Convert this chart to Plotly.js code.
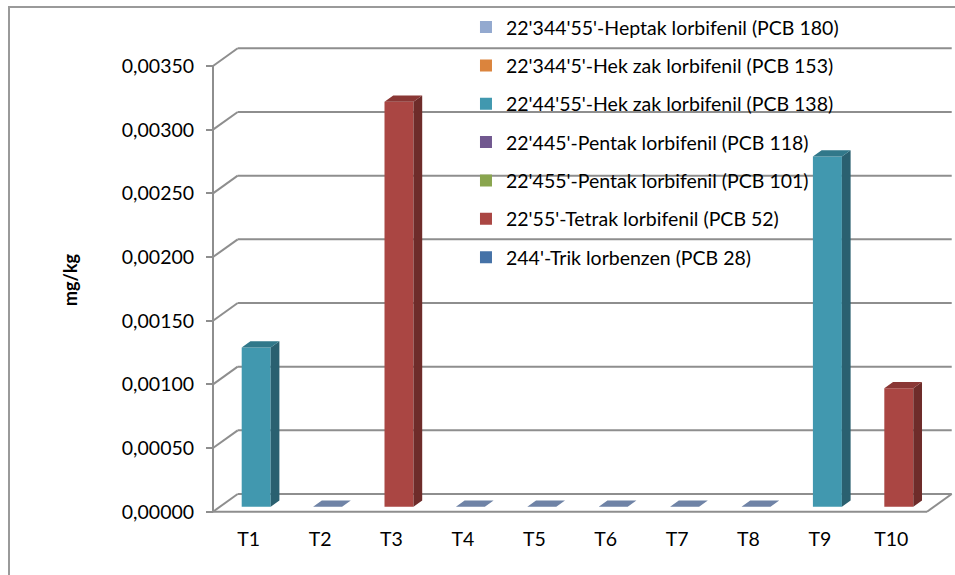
<!DOCTYPE html>
<html>
<head>
<meta charset="utf-8">
<script src="https://cdn.plot.ly/plotly-3.0.1.min.js"></script>
<style>html,body{margin:0;padding:0;background:#fff;}#chart{width:955px;height:575px;}</style>
</head>
<body>
<div id="chart"></div>
<script>
// ---- data ----
const categories = ['T1','T2','T3','T4','T5','T6','T7','T8','T9','T10'];
const seriesNames = [
  "244'-Trik lorbenzen (PCB 28)",
  "22'55'-Tetrak lorbifenil (PCB 52)",
  "22'455'-Pentak lorbifenil (PCB 101)",
  "22'445'-Pentak lorbifenil (PCB 118)",
  "22'44'55'-Hek zak lorbifenil (PCB 138)",
  "22'344'5'-Hek zak lorbifenil (PCB 153)",
  "22'344'55'-Heptak lorbifenil (PCB 180)"
];
const pcb28  = [0, 0, 0, 0, 0, 0, 0, 0, 0, 0];
const pcb52  = [0, 0, 0.00318, 0, 0, 0, 0, 0, 0, 0.00093];
const pcb101 = [0, 0, 0, 0, 0, 0, 0, 0, 0, 0];
const pcb118 = [0, 0, 0, 0, 0, 0, 0, 0, 0, 0];
const pcb138 = [0.00125, 0, 0, 0, 0, 0, 0, 0, 0.00275, 0];
const pcb153 = [0, 0, 0, 0, 0, 0, 0, 0, 0, 0];
const pcb180 = [0, 0, 0, 0, 0, 0, 0, 0, 0, 0];
const yTickVals = [0, 0.0005, 0.001, 0.0015, 0.002, 0.0025, 0.003, 0.0035];
const yTickText = ['0,00000','0,00050','0,00100','0,00150','0,00200','0,00250','0,00300','0,00350'];

// ---- styles ----
const seriesValues = [pcb28, pcb52, pcb101, pcb118, pcb138, pcb153, pcb180];
const frontColors = ['#4572A7','#AA4643','#89A54E','#71588F','#4198AF','#DB843D','#93A9CF'];
const topColors   = ['#345A88','#8A3735','#6E8740','#5A4672','#31788A','#B06A30','#6F83A6'];
const sideColors  = ['#2B4A70','#6E2C2A','#58702F','#48385C','#2A6070','#8E5526','#5C6D8C'];
const FONT = 'Lato, "Open Sans", sans-serif';
const FS = 19.5;
const GRID = '#8E8E8E';
const B0 = 0.0000393, OFF = -0.098, W = 0.406, DDX = 0.122, DDY = 0.0000495;
const DX = 0.346, DY = 0.000139;
const XMIN = -0.542, XMAX = 9.892, YMIN = -0.0000259, YMAX = 0.003665;

const idx = categories.map((c, i) => i);
const bases = seriesValues.map((vals, s) =>
  vals.map((v, i) => B0 + seriesValues.slice(0, s).reduce((a, arr) => a + arr[i], 0)));

const traces = [];
// front faces (legend order: last series on top)
for (let s = seriesValues.length - 1; s >= 0; s--) {
  traces.push({
    type: 'bar', name: seriesNames[s], x: idx, y: seriesValues[s], base: bases[s],
    offset: OFF, width: W, marker: {color: frontColors[s], line: {width: 0}},
    legendgroup: 'g' + s, hoverinfo: 'skip'
  });
}
// side faces and top faces
seriesValues.forEach((vals, s) => {
  const sx = [], sy = [];
  vals.forEach((v, i) => {
    if (v > 0) {
      const x0 = idx[i] + OFF + W, b = bases[s][i];
      sx.push(x0, x0 + DDX, x0 + DDX, x0, null);
      sy.push(b, b + DDY, b + v + DDY, b + v, null);
    }
  });
  if (sx.length) traces.push({type: 'scatter', mode: 'none', x: sx, y: sy, fill: 'toself',
    fillcolor: sideColors[s], showlegend: false, hoverinfo: 'skip'});
});
const topX = seriesValues.map(() => []), topY = seriesValues.map(() => []);
idx.forEach(i => {
  let t = seriesValues.length - 1;
  for (let s = seriesValues.length - 1; s >= 0; s--) { if (seriesValues[s][i] > 0) { t = s; break; } }
  const total = B0 + seriesValues.reduce((a, arr) => a + arr[i], 0);
  const x0 = i + OFF;
  topX[t].push(x0, x0 + W, x0 + W + DDX, x0 + DDX, null);
  topY[t].push(total, total, total + DDY, total + DDY, null);
});
topX.forEach((xs, s) => {
  if (xs.length) traces.push({type: 'scatter', mode: 'none', x: xs, y: topY[s], fill: 'toself',
    fillcolor: topColors[s], showlegend: false, hoverinfo: 'skip'});
});

// walls / grid
const shapes = [];
const ln = (x0, y0, x1, y1) => ({type: 'line', xref: 'x', yref: 'y', x0, y0, x1, y1,
  line: {color: GRID, width: 2}, layer: 'below'});
yTickVals.forEach(v => {
  shapes.push(ln(-0.5, v, -0.5 + DX, v + DY));
  shapes.push(ln(-0.5 + DX, v + DY, categories.length - 0.5 + DX, v + DY));
});
shapes.push(ln(-0.5, 0, -0.5, yTickVals[yTickVals.length - 1]));
shapes.push(ln(-0.5, 0, categories.length - 0.5, 0));
shapes.push(ln(categories.length - 0.5, 0, categories.length - 0.5 + DX, DY));
shapes.push({type: 'rect', xref: 'paper', yref: 'paper', x0: -0.2698, x1: 1.02, y0: -0.138, y1: 1.0809,
  line: {color: '#9A9A9A', width: 2}, fillcolor: 'rgba(0,0,0,0)', layer: 'below'});

const boundaries = [-0.5].concat(idx.map(i => i + 0.5));
const layout = {
  width: 955, height: 575, autosize: false,
  margin: {l: 210, r: 0, t: 45, b: 60},
  paper_bgcolor: '#fff', plot_bgcolor: 'rgba(0,0,0,0)',
  barmode: 'overlay', showlegend: true,
  font: {family: FONT, size: FS, color: '#000'},
  xaxis: {range: [XMIN, XMAX], tickvals: idx, ticktext: categories, ticks: '', showgrid: false,
    zeroline: false, showline: false, anchor: 'free', position: 0.00702, ticklabelstandoff: 14,
    tickfont: {family: FONT, size: FS, color: '#000'}},
  xaxis2: {range: [XMIN, XMAX], overlaying: 'x', tickvals: boundaries, ticks: 'outside', ticklen: 6,
    tickwidth: 2, tickcolor: GRID, showticklabels: false, showgrid: false, zeroline: false,
    showline: false, anchor: 'free', position: 0.00702, side: 'bottom'},
  yaxis: {range: [YMIN, YMAX], tickvals: yTickVals, ticktext: yTickText, ticks: 'outside', ticklen: 7,
    tickwidth: 2, tickcolor: GRID, showgrid: false, zeroline: false, showline: false,
    anchor: 'free', position: 0.00403, ticklabelstandoff: 8,
    tickfont: {family: FONT, size: FS, color: '#000'},
    title: {text: '<b>mg/kg</b>', standoff: 38, font: {family: FONT, size: 18, color: '#000'}}},
  legend: {x: 0.3436, y: 1.079, xanchor: 'left', yanchor: 'top', bgcolor: 'rgba(0,0,0,0)',
    borderwidth: 0, traceorder: 'grouped', tracegroupgap: 10,
    font: {family: FONT, size: FS, color: '#000'}},
  shapes: shapes
};
Plotly.newPlot('chart', traces, layout, {displayModeBar: false, staticPlot: true});
</script>
</body>
</html>
